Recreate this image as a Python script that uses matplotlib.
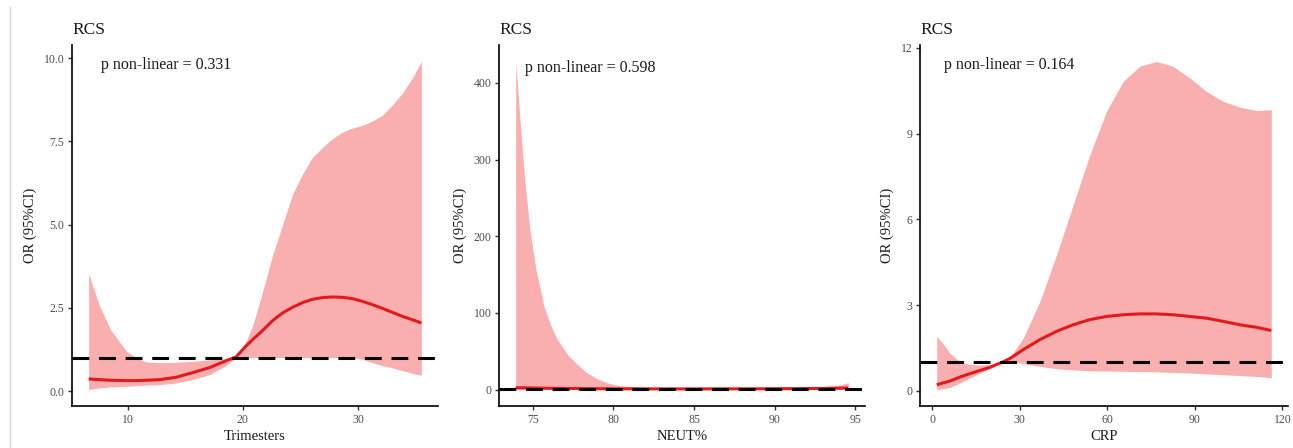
import numpy as np
import matplotlib
matplotlib.use("Agg")
import matplotlib.pyplot as plt
from matplotlib.lines import Line2D

plt.rcParams['font.family'] = ['Liberation Serif', 'DejaVu Serif']

# ---------------- data ----------------
# Panel 1: Trimesters
tri_x = [6.6, 7.5, 8.5, 9.9, 10.75, 11.6, 12.8, 14.2, 15.65, 17.1, 18.5, 19.4, 20.28, 20.85, 21.7,
         22.58, 23.45, 24.31, 25.18, 26.04, 26.91, 27.78, 28.64, 29.51, 30.37, 31.24, 32.1, 32.97,
         33.84, 34.7, 35.5]
tri_or = [0.37, 0.35, 0.33, 0.32, 0.32, 0.33, 0.35, 0.42, 0.56, 0.71, 0.91, 1.03, 1.36, 1.55, 1.82,
          2.12, 2.35, 2.52, 2.66, 2.76, 2.81, 2.83, 2.82, 2.78, 2.70, 2.60, 2.49, 2.37,
          2.25, 2.15, 2.05]
tri_lo = [0.05, 0.10, 0.13, 0.15, 0.17, 0.18, 0.20, 0.25, 0.35, 0.50, 0.76, 1.00, 1.01, 1.01, 1.01,
          1.01, 1.01, 1.01, 1.01, 1.01, 1.01, 1.01, 1.01, 1.00, 0.96, 0.86, 0.77, 0.70,
          0.62, 0.54, 0.48]
tri_hi = [3.54, 2.60, 1.85, 1.20, 1.00, 0.88, 0.86, 0.87, 0.90, 0.94, 0.98, 1.05, 1.50, 1.97, 2.98,
          4.09, 5.00, 5.91, 6.52, 7.02, 7.32, 7.58, 7.78, 7.90, 7.98, 8.11, 8.28, 8.59,
          8.94, 9.39, 9.90]

# Panel 2: NEUT%
neut_x = [73.93, 74.05, 74.2, 74.35, 74.55, 74.81, 75.16, 75.68, 76.1, 76.5, 77.22, 77.8, 78.35, 79.0,
          79.59, 80.4, 82.0, 85.0, 88.0, 91.0, 93.0, 94.0, 94.57]
neut_or = [2.5, 2.45, 2.4, 2.35, 2.3, 2.2, 2.0, 1.8, 1.7, 1.6, 1.45, 1.35, 1.25, 1.15,
           1.08, 1.0, 0.95, 0.9, 1.0, 1.2, 1.5, 1.8, 2.2]
neut_lo = [0.02, 0.02, 0.03, 0.03, 0.04, 0.05, 0.06, 0.08, 0.09, 0.10, 0.15, 0.18, 0.20, 0.25,
           0.30, 0.35, 0.40, 0.45, 0.45, 0.50, 0.50, 0.50, 0.50]
neut_hi = [428, 395, 352, 310, 262, 210, 160, 109, 84, 66, 44, 32, 22, 14,
           9, 5, 3.0, 2.5, 2.5, 3.0, 4.0, 6.0, 9.0]

# Panel 3: CRP
crp_x = [1.5, 4, 6, 8, 10, 13, 16, 19.8, 22, 24, 26.6, 31.2, 36.9, 42.6, 48.3, 54.0, 59.7, 65.4,
         71.1, 76.8, 82.5, 88.3, 94.0, 99.7, 105.4, 111.1, 116.2]
crp_or = [0.21, 0.28, 0.34, 0.42, 0.50, 0.60, 0.70, 0.82, 0.92, 1.00, 1.13, 1.44, 1.79, 2.08, 2.31,
          2.49, 2.60, 2.66, 2.69, 2.69, 2.66, 2.60, 2.54, 2.43, 2.31, 2.22, 2.11]
crp_lo = [0.04, 0.07, 0.12, 0.20, 0.30, 0.45, 0.60, 0.78, 0.90, 0.98, 1.03, 0.95, 0.85, 0.77, 0.73,
          0.70, 0.69, 0.68, 0.67, 0.66, 0.64, 0.62, 0.59, 0.56, 0.53, 0.50, 0.46]
crp_hi = [1.90, 1.60, 1.32, 1.13, 1.00, 0.92, 0.90, 0.91, 0.95, 1.02, 1.16, 1.85, 3.13, 4.76, 6.51,
          8.26, 9.78, 10.83, 11.36, 11.53, 11.36, 10.95, 10.48, 10.13, 9.93, 9.81, 9.84]

panels = [
    dict(x=tri_x, y=tri_or, lo=tri_lo, hi=tri_hi, xlabel="Trimesters",
         xticks=[10, 20, 30], yticks=[0.0, 2.5, 5.0, 7.5, 10.0], yfmt="{:.1f}",
         p="p non-linear = 0.331", ptxt=(0.079, 0.945)),
    dict(x=neut_x, y=neut_or, lo=neut_lo, hi=neut_hi, xlabel="NEUT%",
         xticks=[75, 80, 85, 90, 95], yticks=[0, 100, 200, 300, 400], yfmt="{:.0f}",
         p="p non-linear = 0.598", ptxt=(0.07, 0.937)),
    dict(x=crp_x, y=crp_or, lo=crp_lo, hi=crp_hi, xlabel="CRP",
         xticks=[0, 30, 60, 90, 120], yticks=[0, 3, 6, 9, 12], yfmt="{:.0f}",
         p="p non-linear = 0.164", ptxt=(0.066, 0.945)),
]

W, H = 1293, 448
fig = plt.figure(figsize=(W / 100, H / 100), dpi=100)

# faint left border line
fig.add_artist(Line2D([10 / W, 10 / W], [0, 1 - 7 / H], color='#D9D9D9', lw=1.0))

lefts = [72, 499, 920]
rights = [438, 865, 1288]
bottom_px, top_px = 406, 45

for p, l, r in zip(panels, lefts, rights):
    ax = fig.add_axes([l / W, 1 - bottom_px / H, (r - l) / W, (bottom_px - top_px) / H])
    x = np.array(p['x']); lo = np.array(p['lo']); hi = np.array(p['hi']); y = np.array(p['y'])
    ax.fill_between(x, lo, hi, color='#F9AFAF', lw=0, zorder=1)
    ax.plot(x, y, color='#E31A1C', lw=2.2, zorder=3, solid_capstyle='butt', solid_joinstyle='round')
    ax.axhline(1, color='black', lw=2.2, ls=(0, (5.5, 3.2)), zorder=4)

    # ggplot-style 5% expansion
    xmin, xmax = x.min(), x.max()
    ymin, ymax = min(lo.min(), 1), hi.max()
    dx = (xmax - xmin) * 0.05
    dy = (ymax - ymin) * 0.05
    ax.set_xlim(xmin - dx, xmax + dx)
    ax.set_ylim(ymin - dy, ymax + dy)

    ax.set_xticks(p['xticks'])
    ax.set_xticklabels([str(t) for t in p['xticks']])
    ax.set_yticks(p['yticks'])
    ax.set_yticklabels([p['yfmt'].format(t) for t in p['yticks']])

    for s in ['top', 'right']:
        ax.spines[s].set_visible(False)
    for s in ['left', 'bottom']:
        ax.spines[s].set_linewidth(1.2)
        ax.spines[s].set_color('black')
    ax.tick_params(axis='both', length=3, width=1.0, color='#333333',
                   labelsize=8.5, labelcolor='#4D4D4D', pad=2.5)

    ax.set_xlabel(p['xlabel'], fontsize=10.5, color='#1A1A1A', labelpad=3)
    ax.set_ylabel("OR (95%CI)", fontsize=10.5, color='#1A1A1A', labelpad=5)
    ax.set_title("RCS", loc='left', fontsize=12.5, color='#1A1A1A', pad=8)
    ax.text(p['ptxt'][0], p['ptxt'][1], p['p'], transform=ax.transAxes,
            ha='left', va='center', fontsize=11.5, color='#1A1A1A')

fig.savefig("out.png", dpi=100)
